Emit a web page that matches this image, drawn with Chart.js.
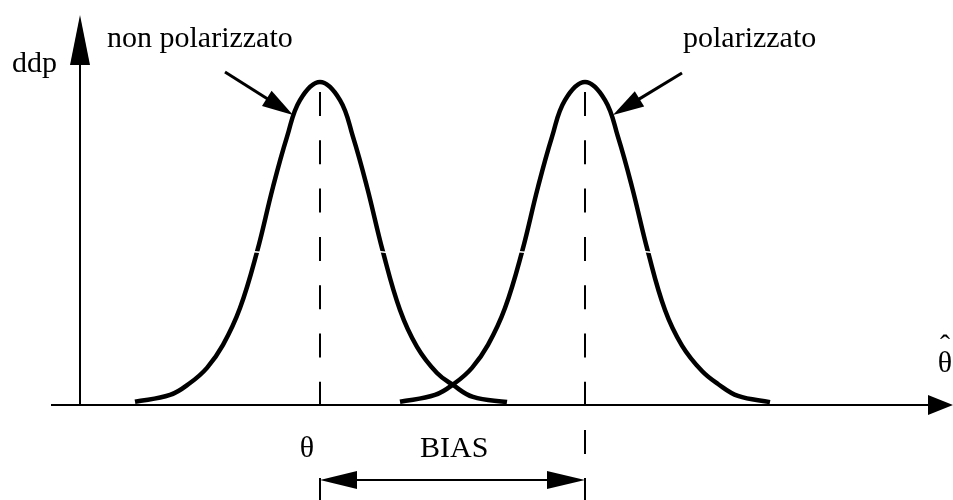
<!DOCTYPE html>
<html>
<head>
<meta charset="utf-8">
<script src="https://cdn.jsdelivr.net/npm/chart.js@4/dist/chart.umd.min.js"></script>
<style>
    html, body { margin: 0; padding: 0; background: #fff; }
    #wrap { width: 953px; height: 500px; }
</style>
</head>
<body>
<div id="wrap"><canvas id="chart" width="953" height="500"></canvas></div>
<script>
// estimator values (x) and density (y, peak = 100)
const nonPolX = [5.5, 9.0, 11.0, 12.7, 14.3, 16.0, 17.7, 19.3, 20.7, 22.0, 24.0, 26.0, 27.3, 28.7, 30.3, 32.0, 33.7, 35.7, 37.3, 39.3, 42.7];
const nonPolY = [1.0, 3.1, 6.8, 11.5, 18.6, 30.0, 47.4, 67.5, 83.0, 94.4, 100, 94.4, 83.0, 67.5, 47.4, 29.4, 18.0, 9.9, 6.2, 2.5, 0.9];
const polX = [32.0, 35.5, 37.5, 39.2, 40.8, 42.5, 44.2, 45.8, 47.2, 48.5, 50.5, 52.5, 53.8, 55.2, 56.8, 58.5, 60.2, 62.2, 63.8, 65.8, 69.0];
const polY = [1.0, 3.1, 6.8, 11.5, 18.6, 30.0, 47.4, 67.5, 83.0, 94.4, 100, 94.4, 83.0, 67.5, 47.4, 29.4, 18.4, 10.5, 6.5, 2.8, 0.9];

// the drawing has small breaks in each curve at these points
const breakIdx = [6, 14];

const theta = 24.0;
const biasValue = 26.5;

const labels = {
    yAxis: 'ddp',
    xAxis: 'θ',
    nonPol: 'non polarizzato',
    pol: 'polarizzato',
    theta: 'θ',
    bias: 'BIAS',
};

const toPoints = (xs, ys) => xs.map((x, i) => ({ x, y: ys[i] }));

const FONT = '30px "Liberation Serif", "Times New Roman", serif';

const arrowHead = (ctx, tipX, tipY, fromX, fromY, len, half) => {
    const ang = Math.atan2(tipY - fromY, tipX - fromX);
    const bx = tipX - Math.cos(ang) * len;
    const by = tipY - Math.sin(ang) * len;
    const nx = -Math.sin(ang) * half;
    const ny = Math.cos(ang) * half;
    ctx.beginPath();
    ctx.moveTo(tipX, tipY);
    ctx.lineTo(bx + nx, by + ny);
    ctx.lineTo(bx - nx, by - ny);
    ctx.closePath();
    ctx.fill();
};

const arrowLine = (ctx, x0, y0, x1, y1, width, len, half) => {
    const ang = Math.atan2(y1 - y0, x1 - x0);
    ctx.lineWidth = width;
    ctx.beginPath();
    ctx.moveTo(x0, y0);
    ctx.lineTo(x1 - Math.cos(ang) * (len - 2), y1 - Math.sin(ang) * (len - 2));
    ctx.stroke();
    arrowHead(ctx, x1, y1, x0, y0, len, half);
};

const sketchPlugin = {
    id: 'sketch',
    afterDatasetsDraw(chart) {
        const { ctx, scales: { x, y } } = chart;
        const x0 = x.getPixelForValue(0);
        const y0 = y.getPixelForValue(0);
        const xMin = x.getPixelForValue(x.min);
        const xMax = x.getPixelForValue(x.max);
        const yMax = y.getPixelForValue(y.max);
        const tPx = x.getPixelForValue(theta);
        const bPx = x.getPixelForValue(theta + biasValue);
        const peakPx = y.getPixelForValue(100);

        ctx.save();

        // breaks in the curves
        ctx.strokeStyle = '#fff';
        ctx.lineWidth = 1.5;
        chart.data.datasets.forEach((_, di) => {
            const pts = chart.getDatasetMeta(di).data;
            breakIdx.forEach((i) => {
                const p = pts[i];
                ctx.beginPath();
                ctx.moveTo(p.x - 5, p.y - 0.5);
                ctx.lineTo(p.x + 5, p.y + 0.5);
                ctx.stroke();
            });
        });

        ctx.strokeStyle = '#000';
        ctx.fillStyle = '#000';
        ctx.lineCap = 'butt';

        // axes
        arrowLine(ctx, xMin, y0, xMax, y0, 2, 25, 10);
        arrowLine(ctx, x0, y0, x0, yMax, 2, 50, 10);

        // dashed guides at theta and theta + bias
        ctx.lineWidth = 2;
        ctx.setLineDash([24, 24.3]);
        ctx.beginPath();
        ctx.moveTo(tPx, peakPx + 10);
        ctx.lineTo(tPx, y0);
        ctx.moveTo(bPx, peakPx + 10);
        ctx.lineTo(bPx, y0 + 50);
        ctx.stroke();
        ctx.setLineDash([]);

        // BIAS span
        const by = y0 + 75;
        ctx.beginPath();
        ctx.moveTo(tPx, by - 2);
        ctx.lineTo(tPx, y0 + 95);
        ctx.moveTo(bPx, by - 2);
        ctx.lineTo(bPx, y0 + 95);
        ctx.moveTo(tPx + 30, by);
        ctx.lineTo(bPx - 30, by);
        ctx.stroke();
        arrowHead(ctx, tPx, by, bPx, by, 37, 9);
        arrowHead(ctx, bPx, by, tPx, by, 38, 9);

        // pointers to the curves
        const tipL = { px: x.getPixelForValue(21.3), py: y.getPixelForValue(89.8) };
        const tipR = { px: x.getPixelForValue(53.3), py: y.getPixelForValue(89.8) };
        arrowLine(ctx, tipL.px - 68, tipL.py - 43, tipL.px, tipL.py, 3, 31, 9);
        arrowLine(ctx, tipR.px + 69, tipR.py - 42, tipR.px, tipR.py, 3, 31, 9);

        // text
        ctx.font = FONT;
        ctx.textBaseline = 'alphabetic';
        ctx.textAlign = 'left';
        ctx.fillText(labels.yAxis, 12, 72);
        ctx.fillText(labels.nonPol, 107, 47);
        ctx.fillText(labels.pol, 683, 47);
        ctx.fillText(labels.bias, 420, y0 + 52);
        ctx.textAlign = 'center';
        ctx.fillText(labels.theta, tPx - 13, y0 + 52);
        ctx.fillText(labels.xAxis, 945, y0 - 33);
        ctx.fillText('ˆ', 945, y0 - 50);
        ctx.restore();
    },
};

const lineStyle = {
    borderColor: '#000',
    borderWidth: 4.5,
    pointRadius: 0,
    tension: 0.4,
    fill: false,
    clip: false,
};

new Chart(document.getElementById('chart'), {
    type: 'line',
    data: {
        datasets: [
            { label: labels.nonPol, data: toPoints(nonPolX, nonPolY), ...lineStyle },
            { label: labels.pol, data: toPoints(polX, polY), ...lineStyle },
        ],
    },
    options: {
        responsive: false,
        animation: false,
        events: [],
        layout: { padding: { left: 51, right: 0, top: 15, bottom: 95 } },
        scales: {
            x: { type: 'linear', min: -2.9, max: 87.3, display: false },
            y: { type: 'linear', min: 0, max: 120.74, display: false },
        },
        plugins: {
            legend: { display: false },
            tooltip: { enabled: false },
        },
    },
    plugins: [sketchPlugin],
});
</script>
</body>
</html>
